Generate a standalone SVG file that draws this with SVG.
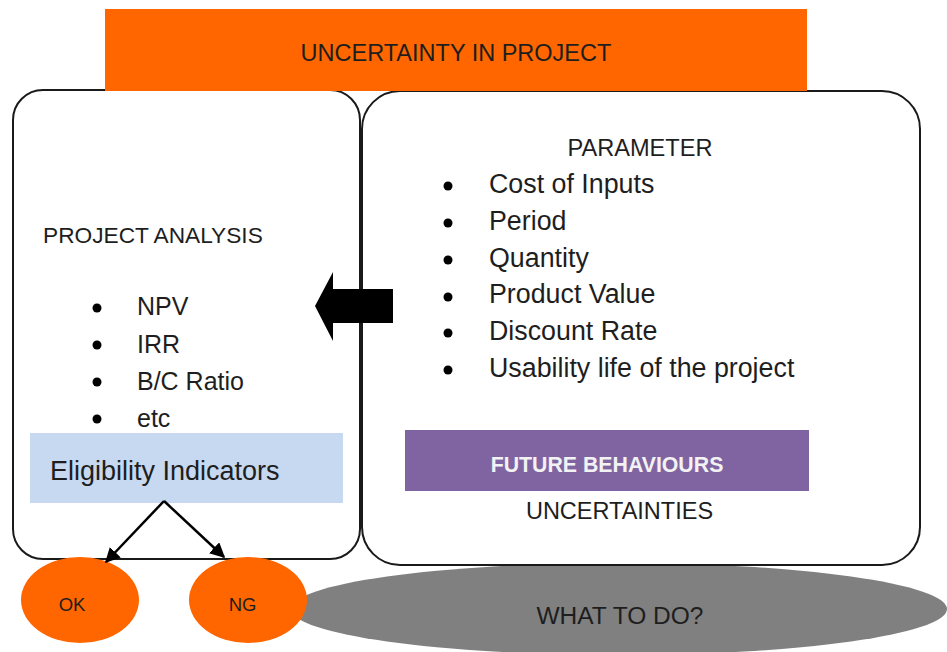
<svg xmlns="http://www.w3.org/2000/svg" width="947" height="652" viewBox="0 0 947 652">
  <style>
    .t { font-family: "Liberation Sans", Arial, sans-serif; fill: #1e1e1e; }
    .box { fill: #ffffff; stroke: #1a1a1a; stroke-width: 2; }
    .orange { fill: #ff6600; }
    .bullet { fill: #000000; }
    .link { stroke: #000000; stroke-width: 2.5; fill: none; }
  </style>
  <defs>
    <marker id="head" viewBox="0 0 10 10" refX="9" refY="5" markerWidth="6" markerHeight="6" markerUnits="strokeWidth" orient="auto">
      <path d="M0,0 L10,5 L0,10 Z" fill="#000000"/>
    </marker>
  </defs>

  <!-- grey "what to do" ellipse sits behind the boxes -->
  <g id="what-to-do">
    <ellipse cx="619" cy="609" rx="328" ry="46" fill="#808080"/>
    <text class="t" x="620" y="624" font-size="24.5" text-anchor="middle">WHAT TO DO?</text>
  </g>

  <!-- project analysis panel -->
  <g id="project-analysis">
    <rect class="box" x="13" y="90" width="347" height="469" rx="30" ry="30"/>
    <text class="t" x="43" y="243" font-size="22.7">PROJECT ANALYSIS</text>
    <circle class="bullet" cx="97" cy="308" r="4.5"/>
    <circle class="bullet" cx="97" cy="345" r="4.5"/>
    <circle class="bullet" cx="97" cy="382" r="4.5"/>
    <circle class="bullet" cx="97" cy="419" r="4.5"/>
    <text class="t" x="137" y="315" font-size="25">NPV</text>
    <text class="t" x="137" y="353" font-size="25">IRR</text>
    <text class="t" x="137" y="390" font-size="25">B/C Ratio</text>
    <text class="t" x="137" y="427" font-size="25">etc</text>
  </g>

  <!-- parameter panel -->
  <g id="parameter">
    <rect class="box" x="362" y="91" width="558" height="474" rx="38" ry="38"/>
    <text class="t" x="640" y="156" font-size="23.6" text-anchor="middle">PARAMETER</text>
    <circle class="bullet" cx="448" cy="186" r="4.5"/>
    <circle class="bullet" cx="448" cy="223" r="4.5"/>
    <circle class="bullet" cx="448" cy="260" r="4.5"/>
    <circle class="bullet" cx="448" cy="297" r="4.5"/>
    <circle class="bullet" cx="448" cy="333" r="4.5"/>
    <circle class="bullet" cx="448" cy="370" r="4.5"/>
    <text class="t" x="489" y="193" font-size="26.8">Cost of Inputs</text>
    <text class="t" x="489" y="230" font-size="26.8">Period</text>
    <text class="t" x="489" y="267" font-size="26.8">Quantity</text>
    <text class="t" x="489" y="303" font-size="26.8">Product Value</text>
    <text class="t" x="489" y="340" font-size="26.8">Discount Rate</text>
    <text class="t" x="489" y="377" font-size="26.8">Usability life of the project</text>
  </g>

  <!-- title bar -->
  <g id="title">
    <rect class="orange" x="105" y="9" width="702" height="82"/>
    <text class="t" x="456" y="61" font-size="23.5" text-anchor="middle">UNCERTAINTY IN PROJECT</text>
  </g>

  <g id="eligibility">
    <rect x="30" y="433" width="313" height="70" fill="#c6d9f1"/>
    <text class="t" x="50" y="480" font-size="27">Eligibility Indicators</text>
  </g>

  <g id="future-behaviours">
    <rect x="405" y="430" width="404" height="61" fill="#8064a2"/>
    <text class="t" x="607" y="472" font-size="21.3" font-weight="bold" text-anchor="middle" style="fill:#f2f2f2">FUTURE BEHAVIOURS</text>
    <text class="t" x="619.5" y="519" font-size="23.5" text-anchor="middle">UNCERTAINTIES</text>
  </g>

  <g id="ok">
    <ellipse class="orange" cx="80" cy="600" rx="59" ry="43"/>
    <text class="t" x="72" y="611" font-size="18.5" text-anchor="middle">OK</text>
  </g>

  <g id="ng">
    <ellipse class="orange" cx="248" cy="600" rx="59" ry="43"/>
    <text class="t" x="242.5" y="611" font-size="18.5" text-anchor="middle">NG</text>
  </g>

  <!-- connectors -->
  <g id="connectors">
    <polygon points="315,306 333,272 333,289 393,289 393,323 333,323 333,341" fill="#000000"/>
    <path class="link" d="M164,501 L106,562" marker-end="url(#head)"/>
    <path class="link" d="M164,501 L224,557" marker-end="url(#head)"/>
  </g>
</svg>
